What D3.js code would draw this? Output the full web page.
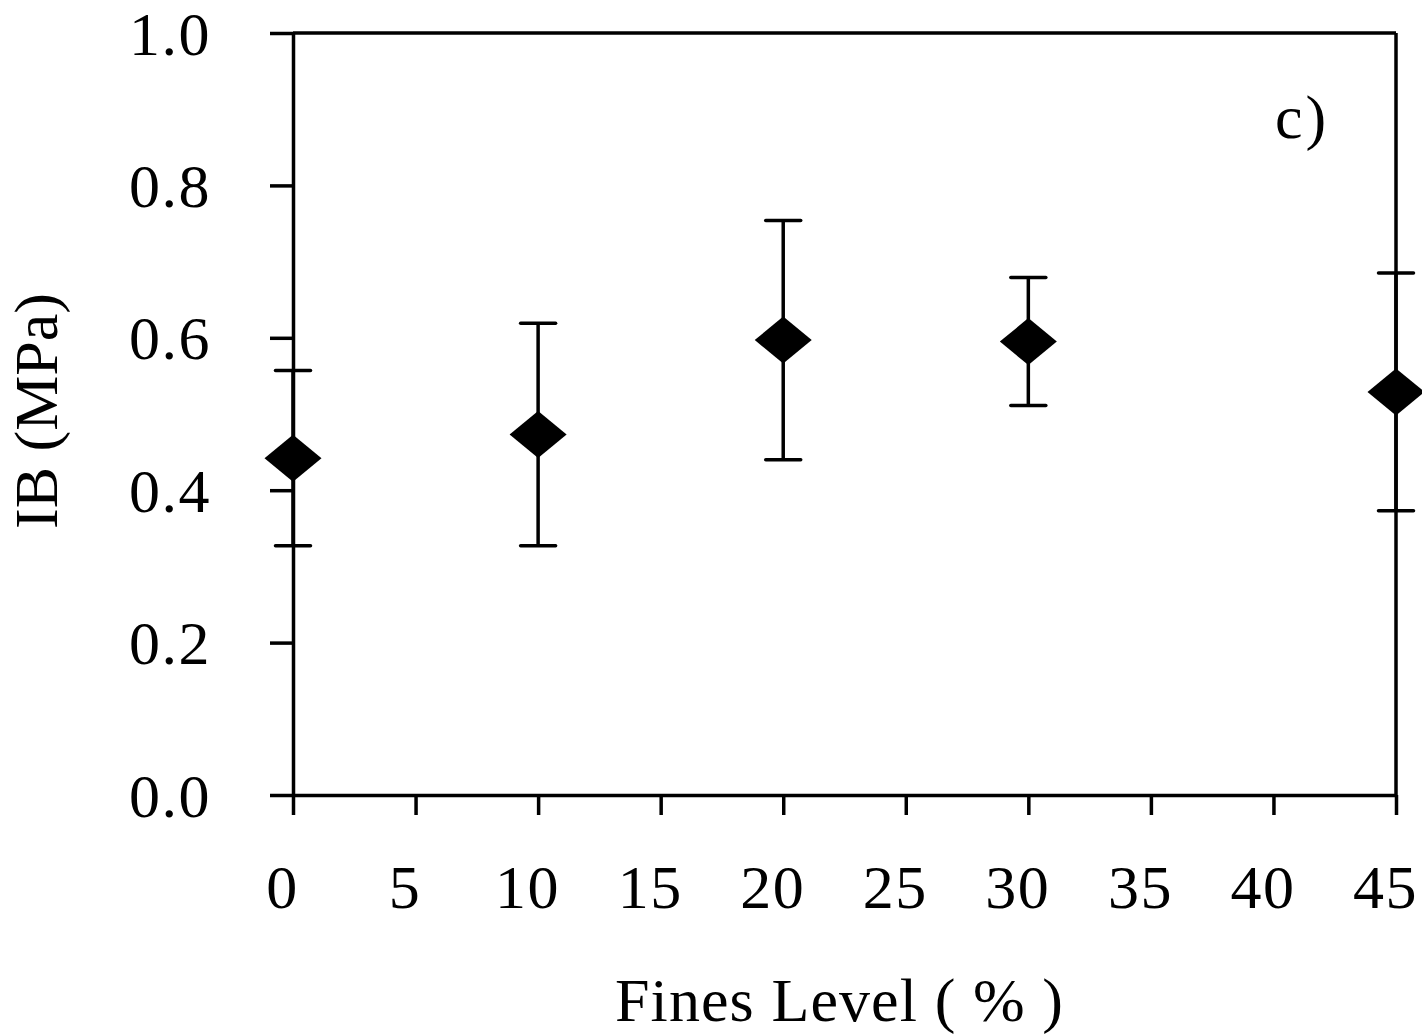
<!DOCTYPE html>
<html>
<head>
<meta charset="utf-8">
<script src="https://cdn.jsdelivr.net/npm/d3@7"></script>
<style>
  html, body { margin: 0; padding: 0; background: #fff; }
  svg { display: block; }
  text { font-family: "Liberation Serif", "Times New Roman", serif; fill: #000; }
</style>
</head>
<body>
<svg id="chart" width="1422" height="1034"></svg>
<script>
// Internal bond strength versus fines level
const finesLevels = [0, 10, 20, 30, 45];
const ibMeans     = [0.442, 0.473, 0.597, 0.595, 0.529];
const ibErrors    = [0.115, 0.146, 0.157, 0.084, 0.156];

const xTickValues = [0, 5, 10, 15, 20, 25, 30, 35, 40, 45];
const yTickValues = [0.0, 0.2, 0.4, 0.6, 0.8, 1.0];

const xTitle = "Fines Level ( % )";
const yTitle = "IB (MPa)";
const panelLabel = "c)";

const svg = d3.select("#chart");

const plot = { left: 293, right: 1396, top: 33, bottom: 795 };

const x = d3.scaleLinear().domain([0, 45]).range([plot.left, plot.right]);
const y = d3.scaleLinear().domain([0, 1]).range([plot.bottom, plot.top]);

const fontSize = 62;
const lineW = 3.5;

// Frame: top and right borders
svg.append("line")
  .attr("x1", plot.left).attr("x2", plot.right)
  .attr("y1", plot.top).attr("y2", plot.top)
  .attr("stroke", "#000").attr("stroke-width", lineW);
svg.append("line")
  .attr("x1", plot.right).attr("x2", plot.right)
  .attr("y1", plot.top).attr("y2", plot.bottom)
  .attr("stroke", "#000").attr("stroke-width", lineW);

// Y axis
const yAxis = svg.append("g")
  .attr("transform", `translate(${plot.left},0)`)
  .call(d3.axisLeft(y).tickValues(yTickValues).tickFormat(d3.format(".1f"))
    .tickSizeInner(23).tickSizeOuter(0).tickPadding(59));
yAxis.select(".domain").attr("stroke-width", lineW);
yAxis.selectAll(".tick line").attr("stroke-width", lineW);
yAxis.selectAll(".tick text")
  .attr("font-size", fontSize)
  .attr("font-family", "Liberation Serif")
  .attr("letter-spacing", 1.5)
  .attr("dy", "0.34em");

// X axis
const xAxis = svg.append("g")
  .attr("transform", `translate(0,${plot.bottom})`)
  .call(d3.axisBottom(x).tickValues(xTickValues).tickFormat(d3.format("d"))
    .tickSizeInner(20).tickSizeOuter(0));
xAxis.select(".domain").attr("stroke-width", lineW);
xAxis.selectAll(".tick line").attr("stroke-width", lineW);
xAxis.selectAll(".tick text")
  .attr("font-size", fontSize)
  .attr("font-family", "Liberation Serif")
  .attr("letter-spacing", 1.5)
  .attr("y", 113)
  .attr("dy", 0)
  .attr("dx", -11);

// Error bars
const capHalf = 17.5;
const bars = svg.append("g").attr("stroke", "#000").attr("stroke-width", lineW);
finesLevels.forEach((f, i) => {
  const cx = x(f);
  const hi = y(ibMeans[i] + ibErrors[i]);
  const lo = y(ibMeans[i] - ibErrors[i]);
  bars.append("line").attr("x1", cx).attr("x2", cx).attr("y1", hi).attr("y2", lo);
  bars.append("line").attr("x1", cx - capHalf).attr("x2", cx + capHalf).attr("y1", hi).attr("y2", hi)
    .attr("stroke-linecap", "round");
  bars.append("line").attr("x1", cx - capHalf).attr("x2", cx + capHalf).attr("y1", lo).attr("y2", lo)
    .attr("stroke-linecap", "round");
});

// Diamond markers
const halfW = 28.5, halfH = 23.5;
svg.append("g").selectAll("path")
  .data(finesLevels.map((f, i) => ({ f, v: ibMeans[i] })))
  .join("path")
  .attr("d", d => {
    const cx = x(d.f), cy = y(d.v);
    return `M${cx},${cy - halfH}L${cx + halfW},${cy}L${cx},${cy + halfH}L${cx - halfW},${cy}Z`;
  })
  .attr("fill", "#000");

// Axis titles
svg.append("text")
  .attr("x", 839).attr("y", 1021)
  .attr("text-anchor", "middle")
  .attr("font-size", fontSize)
  .attr("textLength", 448)
  .attr("lengthAdjust", "spacing")
  .text(xTitle);

svg.append("text")
  .attr("transform", "translate(57,411) rotate(-90)")
  .attr("text-anchor", "middle")
  .attr("font-size", fontSize)
  .text(yTitle);

// Panel label
svg.append("text")
  .attr("x", 1275).attr("y", 138)
  .attr("font-size", fontSize)
  .attr("letter-spacing", 3)
  .text(panelLabel);
</script>
</body>
</html>
